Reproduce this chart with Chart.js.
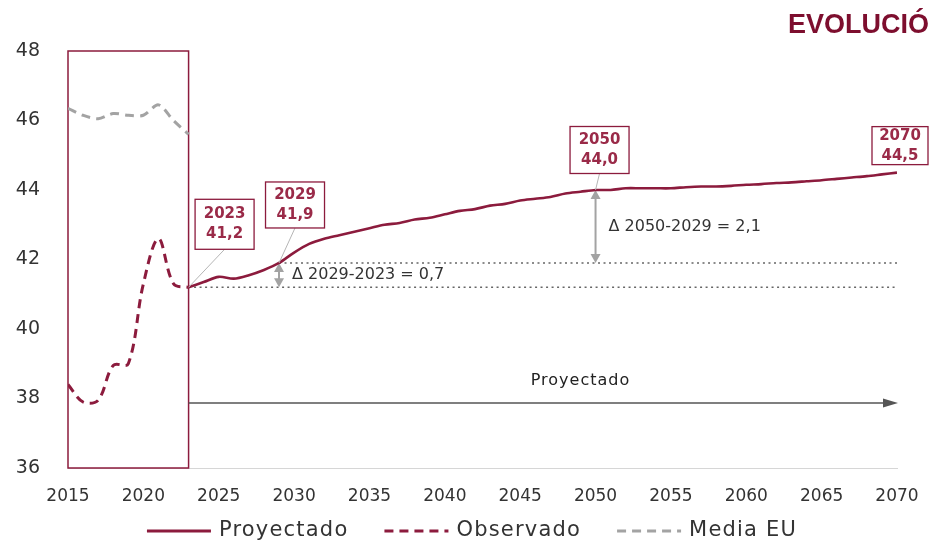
<!DOCTYPE html>
<html lang="es">
<head>
<meta charset="utf-8">
<title>Evolución de la edad media</title>
<script src="https://cdn.jsdelivr.net/npm/chart.js@4.4.1/dist/chart.umd.min.js"></script>
<style>
  html, body { margin: 0; padding: 0; background: #fff; }
  #wrap { width: 929px; height: 543px; position: relative; overflow: hidden; }
</style>
</head>
<body>
<div id="wrap"><canvas id="edadChart" width="929" height="543"></canvas></div>
<script>
// observed period
const obsYears = [2015, 2016, 2017, 2018, 2019, 2020, 2021, 2022, 2023];
const obsValues = [38.4, 37.9, 37.95, 38.95, 39.0, 41.3, 42.6, 41.3, 41.2];
const euValues = [46.35, 46.15, 46.05, 46.2, 46.15, 46.15, 46.45, 46.0, 45.6];

// projection
const projYears = [
  2023, 2024, 2025, 2026, 2027, 2028, 2029, 2030, 2031, 2032, 2033, 2034,
  2035, 2036, 2037, 2038, 2039, 2040, 2041, 2042, 2043, 2044, 2045, 2046,
  2047, 2048, 2049, 2050, 2051, 2052, 2053, 2054, 2055, 2056, 2057, 2058,
  2059, 2060, 2061, 2062, 2063, 2064, 2065, 2066, 2067, 2068, 2069, 2070
];
const projValues = [
  41.2, 41.35, 41.5, 41.45, 41.55, 41.7, 41.9, 42.2, 42.45, 42.6, 42.7, 42.8,
  42.9, 43.0, 43.05, 43.15, 43.2, 43.3, 43.4, 43.45, 43.55, 43.6, 43.7, 43.75,
  43.8, 43.9, 43.95, 44.0, 44.0, 44.05, 44.05, 44.05, 44.05, 44.08, 44.1, 44.1,
  44.12, 44.15, 44.17, 44.2, 44.22, 44.25, 44.28, 44.32, 44.36, 44.4, 44.45, 44.5
];

const xTickLabels = [2015, 2020, 2025, 2030, 2035, 2040, 2045, 2050, 2055, 2060, 2065, 2070];
const yTickLabels = [36, 38, 40, 42, 44, 46, 48];

const calloutYears = [2023, 2029, 2050, 2070];
const deltaPairs = [[2029, 2023], [2050, 2029]];

const MAROON = '#8c1b3d';
const LABEL_RED = '#9a2a48';
const GREY = '#a3a3a3';
const TEXT = '#333333';

// box offsets from the point (px)
const calloutPos = {
  2023: { dx: 36, dy: -63, w: 59, h: 50 },
  2029: { dx: 16, dy: -58, w: 59, h: 46 },
  2050: { dx: 4, dy: -40, w: 59, h: 47 },
  2070: { dx: 3, dy: -27, w: 56, h: 38 }
};

const projAt = year => projValues[projYears.indexOf(year)];
const fmt = v => v.toFixed(1).replace('.', ',');
const pts = (xs, ys) => xs.map((x, i) => ({ x: x, y: ys[i] }));

// small filled triangle, dir 1 = tip pointing down, -1 = tip pointing up
function arrowHead(ctx, x, y, dir, len, half) {
  ctx.beginPath();
  ctx.moveTo(x, y);
  ctx.lineTo(x - half, y - dir * len);
  ctx.lineTo(x + half, y - dir * len);
  ctx.closePath();
  ctx.fill();
}

const guides = {
  id: 'guides',
  beforeDatasetsDraw(chart) {
    const { ctx, scales: { x, y } } = chart;
    ctx.save();

    // observed-period frame
    ctx.strokeStyle = MAROON;
    ctx.lineWidth = 1.5;
    ctx.strokeRect(x.getPixelForValue(obsYears[0]), y.getPixelForValue(48),
      x.getPixelForValue(obsYears[obsYears.length - 1]) - x.getPixelForValue(obsYears[0]),
      y.getPixelForValue(36) - y.getPixelForValue(48));

    // dotted reference levels
    const endX = x.getPixelForValue(2070);
    ctx.strokeStyle = '#666';
    ctx.lineWidth = 1.6;
    ctx.setLineDash([2, 3.5]);
    [2023, 2029].forEach(yr => {
      const py = y.getPixelForValue(projAt(yr));
      ctx.beginPath();
      ctx.moveTo(x.getPixelForValue(yr), py);
      ctx.lineTo(endX, py);
      ctx.stroke();
    });
    ctx.setLineDash([]);

    // delta arrows
    ctx.strokeStyle = GREY;
    ctx.fillStyle = GREY;
    ctx.lineWidth = 2;
    ctx.font = '16px "DejaVu Sans"';
    deltaPairs.forEach(([a, b]) => {
      const px = x.getPixelForValue(a);
      const top = y.getPixelForValue(projAt(a));
      const bot = y.getPixelForValue(projAt(b));
      ctx.beginPath();
      ctx.moveTo(px, top + 6);
      ctx.lineTo(px, bot - 6);
      ctx.stroke();
      arrowHead(ctx, px, top, -1, 9, 5);
      arrowHead(ctx, px, bot, 1, 9, 5);
      const d = projAt(a) - projAt(b);
      ctx.fillStyle = TEXT;
      ctx.textBaseline = 'middle';
      ctx.textAlign = 'left';
      ctx.fillText('\u0394 ' + a + '-' + b + ' = ' + fmt(d), px + 13, (top + bot) / 2);
      ctx.fillStyle = GREY;
    });

    // projection arrow
    const ay = y.getPixelForValue(37.87);
    const ax0 = x.getPixelForValue(2023);
    ctx.strokeStyle = '#555';
    ctx.fillStyle = '#555';
    ctx.lineWidth = 1.5;
    ctx.beginPath();
    ctx.moveTo(ax0, ay);
    ctx.lineTo(endX - 10, ay);
    ctx.stroke();
    ctx.beginPath();
    ctx.moveTo(endX + 1, ay);
    ctx.lineTo(endX - 14, ay - 4.5);
    ctx.lineTo(endX - 14, ay + 4.5);
    ctx.closePath();
    ctx.fill();
    ctx.fillStyle = '#222';
    ctx.font = '16px "DejaVu Sans"';
    ctx.letterSpacing = '1px';
    ctx.textAlign = 'center';
    ctx.textBaseline = 'middle';
    ctx.fillText('Proyectado', x.getPixelForValue(2049), ay - 22);
    ctx.restore();
  },
  afterDraw(chart) {
    const { ctx, scales: { x, y } } = chart;
    ctx.save();

    // value callouts
    calloutYears.forEach(yr => {
      const v = projAt(yr);
      const px = x.getPixelForValue(yr);
      const py = y.getPixelForValue(v);
      const p = calloutPos[yr];
      const cx = px + p.dx, cy = py + p.dy;
      if (yr !== 2070) {
        ctx.strokeStyle = '#b5b5b5';
        ctx.lineWidth = 1;
        ctx.beginPath();
        ctx.moveTo(cx, cy + p.h / 2);
        ctx.lineTo(px, py);
        ctx.stroke();
      }
      ctx.fillStyle = '#fff';
      ctx.fillRect(cx - p.w / 2, cy - p.h / 2, p.w, p.h);
      ctx.strokeStyle = MAROON;
      ctx.lineWidth = 1.3;
      ctx.strokeRect(cx - p.w / 2, cy - p.h / 2, p.w, p.h);
      ctx.fillStyle = LABEL_RED;
      ctx.font = 'bold 15px "DejaVu Sans"';
      ctx.textAlign = 'center';
      ctx.textBaseline = 'middle';
      ctx.fillText(String(yr), cx, cy - 10);
      ctx.fillText(fmt(v), cx, cy + 10);
    });

    // heading (runs off the right edge)
    ctx.fillStyle = '#7d0e2e';
    ctx.font = 'bold 27px "Liberation Sans"';
    ctx.textAlign = 'left';
    ctx.textBaseline = 'alphabetic';
    ctx.fillText('EVOLUCIÓN', 788, 33);

    // legend
    const ds = chart.data.datasets;
    ctx.font = '21px "DejaVu Sans"';
    ctx.letterSpacing = '1.2px';
    const sample = 64, sGap = 8, iGap = 36;
    const widths = ds.map(d => ctx.measureText(d.label).width);
    const total = widths.reduce((s, w) => s + sample + sGap + w, 0) + iGap * (ds.length - 1);
    let lx = 472 - total / 2;
    const ly = 531;
    ds.forEach((d, i) => {
      ctx.strokeStyle = d.borderColor;
      ctx.lineWidth = 3;
      ctx.setLineDash(d.borderDash || []);
      ctx.beginPath();
      ctx.moveTo(lx, ly);
      ctx.lineTo(lx + sample, ly);
      ctx.stroke();
      ctx.setLineDash([]);
      ctx.fillStyle = TEXT;
      ctx.textAlign = 'left';
      ctx.textBaseline = 'middle';
      ctx.fillText(d.label, lx + sample + sGap, ly);
      lx += sample + sGap + widths[i] + iGap;
    });
    ctx.restore();
  }
};

new Chart(document.getElementById('edadChart'), {
  type: 'line',
  data: {
    datasets: [
      {
        label: 'Proyectado',
        data: pts(projYears, projValues),
        borderColor: MAROON,
        borderWidth: 2.6,
        pointRadius: 0,
        tension: 0.3
      },
      {
        label: 'Observado',
        data: pts(obsYears, obsValues),
        borderColor: MAROON,
        borderWidth: 3,
        borderDash: [9, 6],
        pointRadius: 0,
        tension: 0.35
      },
      {
        label: 'Media EU',
        data: pts(obsYears, euValues),
        borderColor: GREY,
        borderWidth: 3,
        borderDash: [9, 6],
        pointRadius: 0,
        tension: 0.3
      }
    ]
  },
  options: {
    responsive: false,
    animation: false,
    devicePixelRatio: 1,
    layout: { padding: { top: 51, right: 32, bottom: 0, left: 0 } },
    plugins: {
      legend: { display: false },
      tooltip: { enabled: false }
    },
    scales: {
      x: {
        type: 'linear',
        min: xTickLabels[0],
        max: xTickLabels[xTickLabels.length - 1],
        afterBuildTicks: s => { s.ticks = xTickLabels.map(v => ({ value: v })); },
        afterFit: s => { s.height = 75; s.paddingLeft = 0; s.paddingRight = 0; },
        grid: { display: false, drawTicks: false },
        border: { display: true, color: '#d6d6d6', width: 1 },
        ticks: {
          padding: 18,
          color: TEXT,
          font: { family: '"DejaVu Sans"', size: 17 },
          callback: v => String(v)
        }
      },
      y: {
        min: yTickLabels[0],
        max: yTickLabels[yTickLabels.length - 1],
        afterBuildTicks: s => { s.ticks = yTickLabels.map(v => ({ value: v })); },
        afterFit: s => { s.width = 68; },
        grid: { display: false, drawTicks: false },
        border: { display: false },
        ticks: {
          padding: 28,
          color: TEXT,
          font: { family: '"DejaVu Sans"', size: 19 },
          callback: v => String(v)
        }
      }
    }
  },
  plugins: [guides]
});
</script>
</body>
</html>
